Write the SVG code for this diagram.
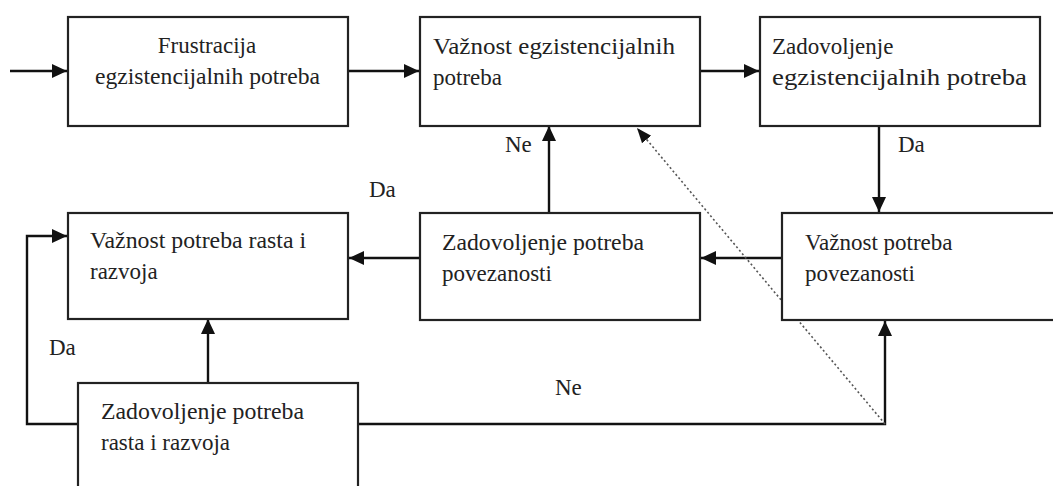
<svg xmlns="http://www.w3.org/2000/svg" width="1053" height="486" viewBox="0 0 1053 486">
<style>
.box{fill:#fff;stroke:#222;stroke-width:2.2}
.t{font-family:"Liberation Serif","Times New Roman",serif;font-size:23px;fill:#222}
.c{fill:none;stroke:#111;stroke-width:2.4}
.d{fill:none;stroke:#555;stroke-width:1.6;stroke-dasharray:2 2.5}
</style>
<defs>
<marker id="ah" markerUnits="userSpaceOnUse" markerWidth="16" markerHeight="14" refX="15" refY="7" orient="auto">
<path d="M0,0 L15,7 L0,14 z" fill="#111"/>
</marker>
<marker id="ahd" markerUnits="userSpaceOnUse" markerWidth="16" markerHeight="14" refX="15" refY="7" orient="auto">
<path d="M0,1 L15,7 L0,13 z" fill="#111"/>
</marker>
</defs>
<rect width="1053" height="486" fill="#fff"/>
<g id="connectors">
<path class="c" d="M10,71 H67" marker-end="url(#ah)"/>
<path class="c" d="M348,71 H419" marker-end="url(#ah)"/>
<path class="c" d="M700,71 H759" marker-end="url(#ah)"/>
<path class="c" d="M879,126 V212" marker-end="url(#ah)"/>
<path class="c" d="M782,258 H701" marker-end="url(#ah)"/>
<path class="c" d="M549,213 V126" marker-end="url(#ah)"/>
<path class="c" d="M420,258 H349" marker-end="url(#ah)"/>
<path class="c" d="M208,383 V319" marker-end="url(#ah)"/>
<path class="c" d="M77,424 H27 V236 H67" marker-end="url(#ah)"/>
<path class="c" d="M358,424 H885 V321" marker-end="url(#ah)"/>
<path class="d" d="M885,424 L637,128" marker-end="url(#ahd)"/>
<text class="t" x="505" y="152">Ne</text>
<text class="t" x="898" y="152">Da</text>
<text class="t" x="369" y="197">Da</text>
<text class="t" x="49" y="355">Da</text>
<text class="t" x="555" y="395">Ne</text>
</g>
<g id="n1">
<rect class="box" x="68" y="17" width="280" height="109"/>
<text class="t" x="207" y="53" text-anchor="middle">Frustracija</text>
<text class="t" x="95" y="84" textLength="225" lengthAdjust="spacingAndGlyphs">egzistencijalnih potreba</text>
</g>
<g id="n2">
<rect class="box" x="420" y="17" width="280" height="109"/>
<text class="t" x="433" y="54" textLength="242" lengthAdjust="spacingAndGlyphs">Važnost egzistencijalnih</text>
<text class="t" x="433" y="85">potreba</text>
</g>
<g id="n3">
<rect class="box" x="760" y="17" width="280" height="109"/>
<text class="t" x="772" y="54">Zadovoljenje</text>
<text class="t" x="772" y="85" textLength="255" lengthAdjust="spacingAndGlyphs">egzistencijalnih potreba</text>
</g>
<g id="n4">
<rect class="box" x="68" y="213" width="280" height="106"/>
<text class="t" x="90" y="248" textLength="216" lengthAdjust="spacingAndGlyphs">Važnost potreba rasta i</text>
<text class="t" x="90" y="279">razvoja</text>
</g>
<g id="n5">
<rect class="box" x="420" y="213" width="280" height="107"/>
<text class="t" x="442" y="250" textLength="202" lengthAdjust="spacingAndGlyphs">Zadovoljenje potreba</text>
<text class="t" x="442" y="281">povezanosti</text>
</g>
<g id="n6">
<rect class="box" x="782" y="213" width="290" height="107"/>
<text class="t" x="805" y="250">Važnost potreba</text>
<text class="t" x="805" y="281">povezanosti</text>
</g>
<g id="n7">
<rect class="box" x="78" y="383" width="280" height="120"/>
<text class="t" x="101" y="419" textLength="203" lengthAdjust="spacingAndGlyphs">Zadovoljenje potreba</text>
<text class="t" x="101" y="450">rasta i razvoja</text>
</g>
</svg>
